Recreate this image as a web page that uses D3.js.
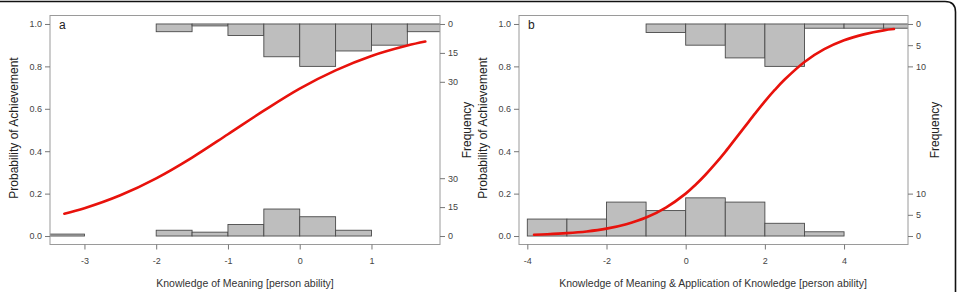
<!DOCTYPE html>
<html>
<head>
<meta charset="utf-8">
<script src="https://cdn.jsdelivr.net/npm/d3@7"></script>
<style>
  html, body { margin: 0; padding: 0; background: #fff; }
  svg { display: block; font-family: "Liberation Sans", Arial, Helvetica, sans-serif; }
</style>
</head>
<body>
<svg id="chart" width="959" height="292"></svg>
<script>
// ---------- data ----------
// Panel a: bins of width 0.5
const binsA = [[-3.5,-3],[-3,-2.5],[-2.5,-2],[-2,-1.5],[-1.5,-1],[-1,-0.5],[-0.5,0],[0,0.5],[0.5,1],[1,1.5],[1.5,2]];
const lowCountsA  = [1, 0, 0, 3, 2, 6, 14, 10, 3, 0, 0];   // non-achievers (bottom)
const highCountsA = [0, 0, 0, 4, 1, 6, 17, 22, 14, 11, 4]; // achievers (top, hanging)
const curveXA = [-3.28, -3.0, -2.5, -2.0, -1.5, -1.0, -0.5, 0.0, 0.5, 1.0, 1.5, 1.75];
const curveYA = [0.105, 0.131, 0.192, 0.272, 0.370, 0.480, 0.591, 0.695, 0.781, 0.849, 0.898, 0.917];
const xTicksA = [-3, -2, -1, 0, 1];
const freqTicksA = [0, 15, 30];

// Panel b: bins of width 1
const binsB = [[-4,-3],[-3,-2],[-2,-1],[-1,0],[0,1],[1,2],[2,3],[3,4],[4,5],[5,6]];
const lowCountsB  = [4, 4, 8, 6, 9, 8, 3, 1, 0, 0];
const highCountsB = [0, 0, 0, 2, 5, 8, 10, 1, 1, 1];
const curveXB = [-3.83, -3.5, -3.0, -2.5, -2.0, -1.5, -1.0, -0.5, 0.0, 0.25, 0.5, 0.75, 1.0, 1.25, 1.5, 1.75, 2.0, 2.25, 2.5, 3.0, 3.5, 4.0, 4.5, 5.0, 5.26];
const curveYB = [0.006, 0.0083, 0.0135, 0.0217, 0.035, 0.056, 0.087, 0.134, 0.200, 0.242, 0.289, 0.341, 0.397, 0.457, 0.517, 0.577, 0.635, 0.689, 0.738, 0.821, 0.881, 0.923, 0.951, 0.970, 0.976];
const xTicksB = [-4, -2, 0, 2, 4];
const freqTicksB = [0, 5, 10];

const yTicks = [0.0, 0.2, 0.4, 0.6, 0.8, 1.0];

// ---------- drawing ----------
const svg = d3.select("#chart");
const tickCol = "#444";

// outer rounded frame (only top and right edges visible)
svg.append("path")
  .attr("d", "M -5 1.5 L 945 1.5 Q 955.5 1.5 955.5 12 L 955.5 300")
  .attr("fill", "none").attr("stroke", "#111").attr("stroke-width", 1.6);

function panel(cfg) {
  const g = svg.append("g");
  const x = d3.scaleLinear().domain(cfg.xDomain).range([cfg.left, cfg.right]);
  const y = d3.scaleLinear().domain([-0.04, 1.04]).range([244.5, 15.5]);
  const maxCount = d3.max(cfg.high.concat(cfg.low));
  // counts scaled so the tallest bar is 0.2 probability units
  const cBot = d3.scaleLinear().domain([0, maxCount]).range([y(0), y(0.2)]);
  const cTop = d3.scaleLinear().domain([0, maxCount]).range([y(1), y(0.8)]);

  const clipId = "clip" + cfg.name;
  svg.append("clipPath").attr("id", clipId).append("rect")
    .attr("x", cfg.left).attr("y", 15.5).attr("width", cfg.right - cfg.left).attr("height", 229);

  const plot = g.append("g").attr("clip-path", `url(#${clipId})`);

  const bars = cfg.bins.map((b, i) => ({ b, lo: cfg.low[i], hi: cfg.high[i] }));
  plot.selectAll("rect.lo").data(bars.filter(d => d.lo > 0)).join("rect")
    .attr("class", "lo")
    .attr("x", d => x(d.b[0])).attr("width", d => x(d.b[1]) - x(d.b[0]))
    .attr("y", d => cBot(d.lo)).attr("height", d => cBot(0) - cBot(d.lo))
    .attr("fill", "#bebebe").attr("stroke", "#4a4a4a").attr("stroke-width", 0.9);
  plot.selectAll("rect.hi").data(bars.filter(d => d.hi > 0)).join("rect")
    .attr("class", "hi")
    .attr("x", d => x(d.b[0])).attr("width", d => x(d.b[1]) - x(d.b[0]))
    .attr("y", cTop(0)).attr("height", d => cTop(d.hi) - cTop(0))
    .attr("fill", "#bebebe").attr("stroke", "#4a4a4a").attr("stroke-width", 0.9);

  const pts = cfg.cx.map((v, i) => [v, cfg.cy[i]]);
  plot.append("path").datum(pts)
    .attr("d", d3.line().x(d => x(d[0])).y(d => y(d[1])).curve(d3.curveCatmullRom.alpha(0.5)))
    .attr("fill", "none").attr("stroke", "#e8120c").attr("stroke-width", 2.6)
    .attr("stroke-linecap", "round");

  // box
  g.append("rect").attr("x", cfg.left).attr("y", 15.5)
    .attr("width", cfg.right - cfg.left).attr("height", 229)
    .attr("fill", "none").attr("stroke", "#9a9a9a").attr("stroke-width", 1);

  // left axis
  const yAx = g.append("g").attr("transform", `translate(${cfg.left},0)`)
    .call(d3.axisLeft(y).tickValues(yTicks).tickFormat(d3.format(".1f")).tickSize(5).tickPadding(3));
  // bottom axis
  const xAx = g.append("g").attr("transform", `translate(0,244.5)`)
    .call(d3.axisBottom(x).tickValues(cfg.xTicks).tickFormat(d => d < 0 ? "-" + Math.abs(d) : d).tickSize(5).tickPadding(8));
  // right axes (frequency)
  const rAxB = g.append("g").attr("transform", `translate(${cfg.right},0)`)
    .call(d3.axisRight(cBot).tickValues(cfg.freqTicks).tickSize(5).tickPadding(3));
  const rAxT = g.append("g").attr("transform", `translate(${cfg.right},0)`)
    .call(d3.axisRight(cTop).tickValues(cfg.freqTicks).tickSize(5).tickPadding(3));
  [yAx, xAx, rAxB, rAxT].forEach(a => {
    a.select(".domain").remove();
    a.selectAll("line").attr("stroke", "#777");
    a.selectAll("text").attr("fill", tickCol).style("font-size", "9px")
      .style("font-family", '"Liberation Sans", Arial, sans-serif');
  });

  // panel label
  g.append("text").attr("x", cfg.left + 9).attr("y", 29)
    .text(cfg.name).attr("fill", "#222").style("font-size", "12px");

  // titles
  g.append("text").attr("x", (cfg.titleX)).attr("y", 286.5)
    .attr("text-anchor", "middle").text(cfg.xTitle)
    .attr("fill", "#333").style("font-size", "10.5px");
  g.append("text").attr("transform", `translate(${cfg.left - 32},128) rotate(-90)`)
    .attr("text-anchor", "middle").text("Probability of Achievement")
    .attr("fill", "#222").style("font-size", "12px");
  g.append("text").attr("transform", `translate(${cfg.right + 31},130) rotate(-90)`)
    .attr("text-anchor", "middle").text("Frequency")
    .attr("fill", "#222").style("font-size", "12px");
}

panel({ name: "a", left: 50, right: 440, xDomain: [-3.48, 1.955],
  bins: binsA, low: lowCountsA, high: highCountsA, cx: curveXA, cy: curveYA,
  xTicks: xTicksA, freqTicks: freqTicksA, titleX: 245,
  xTitle: "Knowledge of Meaning [person ability]" });
panel({ name: "b", left: 519, right: 908, xDomain: [-4.21, 5.615],
  bins: binsB, low: lowCountsB, high: highCountsB, cx: curveXB, cy: curveYB,
  xTicks: xTicksB, freqTicks: freqTicksB, titleX: 713,
  xTitle: "Knowledge of Meaning & Application of Knowledge [person ability]" });
</script>
</body>
</html>
